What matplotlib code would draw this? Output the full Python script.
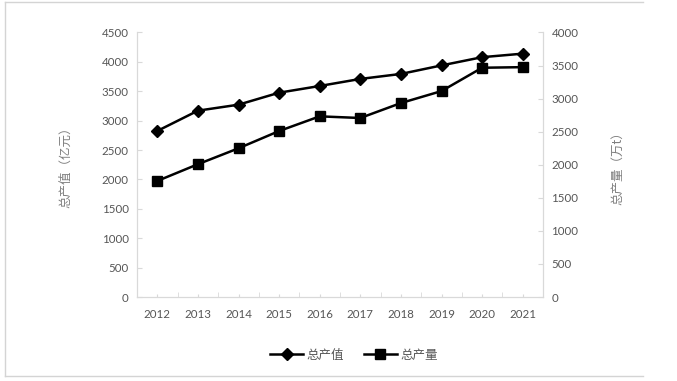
import matplotlib
matplotlib.use("Agg")
import matplotlib.pyplot as plt
from matplotlib.lines import Line2D
from matplotlib.ticker import MultipleLocator

plt.rcParams['font.family'] = ['Lato', 'Noto Sans CJK SC', 'DejaVu Sans']

years = ['2012', '2013', '2014', '2015', '2016', '2017', '2018', '2019', '2020', '2021']
output_value = [2825, 3170, 3272, 3476, 3590, 3710, 3795, 3940, 4080, 4140]   # 总产值（亿元）
output_volume = [1755, 2008, 2249, 2510, 2732, 2707, 2933, 3114, 3467, 3476]  # 总产量（万t）
left_label = '总产值（亿元）'
right_label = '总产量（万t）'
series_names = ['总产值', '总产量']

W, H = 677, 381
fig = plt.figure(figsize=(W / 100, H / 100), dpi=100)
ax = fig.add_axes([137 / W, 1 - 297 / H, (543 - 137) / W, (297 - 32.5) / H])
ax2 = ax.twinx()

x = list(range(len(years)))
l1, = ax.plot(x, output_value, color='black', lw=1.8, marker='D', markersize=6.5,
              label=series_names[0])
l2, = ax2.plot(x, output_volume, color='black', lw=1.8, marker='s', markersize=7.5,
               label=series_names[1])

ax.set_xlim(-0.5, len(years) - 0.5)
ax.set_ylim(0, 4500)
ax2.set_ylim(0, 4000)
ax.yaxis.set_major_locator(MultipleLocator(500))
ax2.yaxis.set_major_locator(MultipleLocator(500))
ax.set_xticks(x)
ax.set_xticklabels(years)
ax.set_xticks([i + 0.5 for i in range(-1, len(years))], minor=True)

spine_c = '#d9d9d9'
text_c = '#555555'
for a in (ax, ax2):
    for s in a.spines.values():
        s.set_color(spine_c)
        s.set_linewidth(0.9)
    a.spines['top'].set_visible(False)
ax.spines['right'].set_visible(False)
ax2.spines['left'].set_visible(False)
ax2.spines['bottom'].set_visible(False)

ax.tick_params(axis='y', direction='in', length=3.5, color=spine_c, labelsize=8.3, labelcolor=text_c, pad=6)
ax2.tick_params(axis='y', direction='in', length=3.5, color=spine_c, labelsize=8.3, labelcolor=text_c, pad=6)
ax.tick_params(axis='x', which='major', direction='in', length=2, color=spine_c, labelsize=8.3, labelcolor=text_c, pad=9)
ax.tick_params(axis='x', which='minor', direction='in', length=3.5, color=spine_c)

ax.set_ylabel(left_label, fontsize=9, color='#7f7f7f', family=['Noto Sans CJK SC', 'DejaVu Sans'], labelpad=21)
ax2.set_ylabel(right_label, fontsize=9, color='#7f7f7f', family=['Noto Sans CJK SC', 'DejaVu Sans'],
               rotation=90, labelpad=24)

leg = fig.legend(handles=[l1, l2], loc='center', bbox_to_anchor=(354 / W, 1 - 355 / H), ncol=2,
                 frameon=False, handlelength=2.6, columnspacing=1.6, handletextpad=0.3,
                 prop={'family': ['Noto Sans CJK SC', 'DejaVu Sans'], 'size': 9})
for t in leg.get_texts():
    t.set_color(text_c)

bc = '#d4d4d4'
fig.add_artist(Line2D([5.5 / W, 5.5 / W], [1 - 376 / H, 1 - 1.5 / H], color=bc, lw=1.0))
fig.add_artist(Line2D([5.5 / W, 643 / W], [1 - 1.5 / H, 1 - 1.5 / H], color=bc, lw=1.0))
fig.add_artist(Line2D([5.5 / W, 643 / W], [1 - 376 / H, 1 - 376 / H], color=bc, lw=1.0))

fig.savefig('out.png', dpi=100, facecolor='white')
